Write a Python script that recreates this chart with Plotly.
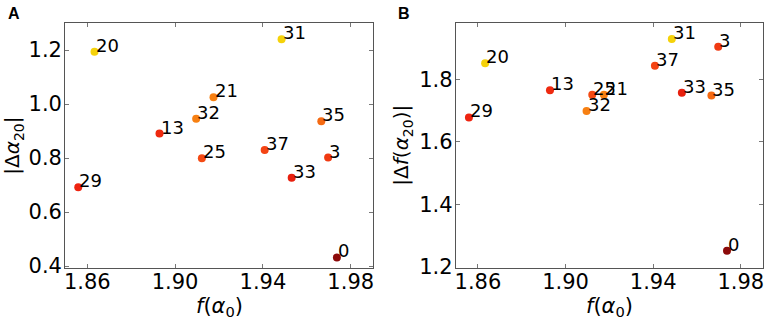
import plotly.graph_objects as go

# Data
labels = ["0", "3", "13", "20", "21", "25", "29", "31", "32", "33", "35", "37"]
f_alpha0 = [1.9737, 1.9697, 1.8929, 1.8633, 1.9175, 1.9122, 1.8559, 1.9485, 1.9096, 1.9531, 1.9666, 1.9408]
d_alpha20 = [0.432, 0.802, 0.891, 1.194, 1.025, 0.799, 0.692, 1.240, 0.946, 0.727, 0.936, 0.830]
d_f_alpha20 = [1.252, 1.904, 1.765, 1.851, 1.751, 1.751, 1.678, 1.929, 1.699, 1.757, 1.748, 1.843]
point_colors = ["#8c0a0a", "#f03a12", "#ee2a10", "#f5d20a", "#f78012", "#f44a14",
                "#ee2410", "#f5d20a", "#f78012", "#e8200e", "#f56a12", "#f44414"]

x_ticks = [1.86, 1.90, 1.94, 1.98]
yA_ticks = [0.4, 0.6, 0.8, 1.0, 1.2]
yB_ticks = [1.2, 1.4, 1.6, 1.8]

W, H = 765, 321
FONT = "DejaVu Sans"

fig = go.Figure()
fig.add_trace(go.Scatter(x=f_alpha0, y=d_alpha20, mode="markers",
                         marker=dict(size=8, color=point_colors, line=dict(width=0)),
                         xaxis="x", yaxis="y", showlegend=False))
fig.add_trace(go.Scatter(x=f_alpha0, y=d_f_alpha20, mode="markers",
                         marker=dict(size=8, color=point_colors, line=dict(width=0)),
                         xaxis="x2", yaxis="y2", showlegend=False))

annotations = []
for lab, xv, ya, yb in zip(labels, f_alpha0, d_alpha20, d_f_alpha20):
    annotations.append(dict(x=xv, y=ya, xref="x", yref="y", text=lab, showarrow=False,
                            xanchor="left", yanchor="bottom", xshift=-1, yshift=-6,
                            font=dict(family=FONT, size=18, color="black")))
    annotations.append(dict(x=xv, y=yb, xref="x2", yref="y2", text=lab, showarrow=False,
                            xanchor="left", yanchor="bottom", xshift=-1, yshift=-6,
                            font=dict(family=FONT, size=18, color="black")))

# axis titles and panel letters
xA = [65.3 / W, 372.7 / W]
xB = [456 / W, 762.7 / W]
yD = [1 - 268 / H, 1 - 23.3 / H]
annotations += [
    dict(x=(xA[0] + xA[1]) / 2, y=1 - 307 / H, xref="paper", yref="paper",
         text="<i>f</i>(<i>α</i><sub>0</sub>)", showarrow=False, xanchor="center", yanchor="middle",
         font=dict(family=FONT, size=21, color="black")),
    dict(x=(xB[0] + xB[1]) / 2, y=1 - 307 / H, xref="paper", yref="paper",
         text="<i>f</i>(<i>α</i><sub>0</sub>)", showarrow=False, xanchor="center", yanchor="middle",
         font=dict(family=FONT, size=21, color="black")),
    dict(x=13 / W, y=(yD[0] + yD[1]) / 2, xref="paper", yref="paper",
         text="|Δ<i>α</i><sub>20</sub>|", showarrow=False, textangle=-90,
         xanchor="center", yanchor="middle", font=dict(family=FONT, size=20, color="black")),
    dict(x=402 / W, y=(yD[0] + yD[1]) / 2, xref="paper", yref="paper",
         text="|Δ<i>f</i>(<i>α</i><sub>20</sub>)|", showarrow=False, textangle=-90,
         xanchor="center", yanchor="middle", font=dict(family=FONT, size=20, color="black")),
    dict(x=6 / W, y=1 - 13 / H, xref="paper", yref="paper", text="<b>A</b>", showarrow=False,
         xanchor="left", yanchor="middle", font=dict(family="Liberation Sans", size=16, color="black")),
    dict(x=396 / W, y=1 - 13 / H, xref="paper", yref="paper", text="<b>B</b>", showarrow=False,
         xanchor="left", yanchor="middle", font=dict(family="Liberation Sans", size=16, color="black")),
]

axis_common = dict(showgrid=False, zeroline=False, showline=True, linecolor="#555555", linewidth=1.3,
                   mirror="ticks", ticks="inside", ticklen=4, tickwidth=1, tickcolor="#777777",
                   tickfont=dict(family=FONT, size=21, color="black"), automargin=False)

fig.update_layout(
    width=W, height=H,
    margin=dict(l=0, r=0, t=0, b=0),
    paper_bgcolor="white", plot_bgcolor="white",
    showlegend=False,
    xaxis=dict(domain=xA, range=[1.85, 1.99], tickvals=x_ticks, tickformat=".2f", anchor="y",
               ticklabelstandoff=-5, **axis_common),
    yaxis=dict(domain=yD, range=[0.393, 1.299], tickvals=yA_ticks, tickformat=".1f", anchor="x",
               ticklabelstandoff=-2, **axis_common),
    xaxis2=dict(domain=xB, range=[1.85, 1.99], tickvals=x_ticks, tickformat=".2f", anchor="y2",
                ticklabelstandoff=-5, **axis_common),
    yaxis2=dict(domain=yD, range=[1.197, 1.979], tickvals=yB_ticks, tickformat=".1f", anchor="x2",
                ticklabelstandoff=-2, **axis_common),
    annotations=annotations,
)

fig.write_html("out.html", config={"displayModeBar": False},
               post_script="document.body.style.margin='0px';document.body.style.overflow='hidden';")
